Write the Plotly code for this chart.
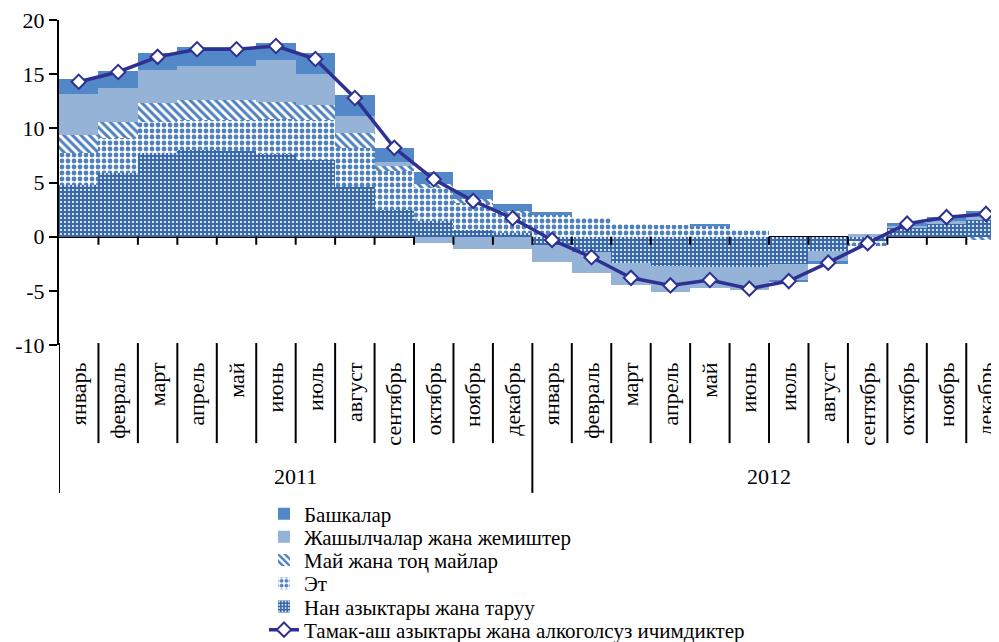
import plotly.graph_objects as go

months = ["январь", "февраль", "март", "апрель", "май", "июнь", "июль", "август",
          "сентябрь", "октябрь", "ноябрь", "декабрь"] * 2
years = ["2011", "2012"]
ytick_vals = [-10, -5, 0, 5, 10, 15, 20]
ytick_text = ["-10", "-5", "0", "5", "10", "15", "20"]

nan = [4.8, 5.9, 7.7, 8.0, 7.9, 7.65, 7.1, 4.6, 2.45, 1.45, 0.65, 0.35,
       -0.8, -1.4, -2.45, -2.7, -2.8, -2.8, -2.55, -1.3, -0.4, 0.85, 1.2, 1.55]
et = [2.9, 3.2, 2.9, 2.8, 2.9, 3.25, 3.7, 3.6, 3.6, 3.05, 2.5, 1.8,
      2.0, 1.7, 1.2, 1.05, 1.0, 0.65, 0.0, 0.0, -0.45, 0.0, 0.0, 0.0]
mai = [1.7, 1.5, 1.75, 1.8, 1.8, 1.55, 1.4, 1.4, 0.5, 0.4, 0.3, 0.2,
       0.0, 0.0, 0.0, 0.0, 0.0, 0.0, 0.0, 0.0, 0.0, 0.0, 0.0, -0.3]
jash = [3.8, 3.15, 3.05, 3.2, 3.2, 3.85, 2.8, 1.55, 0.3, -0.6, -1.15, -1.15,
        -1.5, -1.95, -2.0, -2.4, -1.9, -2.15, -1.45, -0.9, 0.25, 0.15, 0.25, 0.45]
bashka = [1.4, 1.55, 1.6, 1.7, 1.7, 1.6, 2.0, 1.95, 1.3, 1.05, 0.9, 0.63,
          0.3, 0.0, 0.0, 0.0, 0.15, 0.0, -0.2, -0.3, 0.0, 0.3, 0.35, 0.4]
total = [14.3, 15.2, 16.6, 17.3, 17.3, 17.6, 16.4, 12.8, 8.2, 5.3, 3.3, 1.7,
         -0.3, -1.9, -3.8, -4.5, -4.0, -4.8, -4.1, -2.4, -0.6, 1.2, 1.8, 2.1]

names = ["Нан азыктары жана таруу", "Эт", "Май жана тоң майлар",
         "Жашылчалар жана жемиштер", "Башкалар",
         "Тамак-аш азыктары жана алкоголсуз ичимдиктер"]

x = list(range(len(months)))
FONT = "Liberation Serif"
FS = 22
FS_LEG = 21
BLUE = "#4F81BD"
NAVY = "#2E3192"
OFF = 8  # page body margin

fig = go.Figure()
fig.add_trace(go.Bar(x=x, y=nan, name=names[0], legend="legend5",
                     marker=dict(color="#3A69AA", line=dict(width=0),
                                 pattern=dict(shape=".", bgcolor="#3A69AA", fgcolor="white",
                                              size=4, solidity=0.22, fillmode="replace"))))
fig.add_trace(go.Bar(x=x, y=et, name=names[1], legend="legend4",
                     marker=dict(color=BLUE, line=dict(width=0),
                                 pattern=dict(shape=".", bgcolor="white", fgcolor=BLUE,
                                              size=6, solidity=0.5, fillmode="replace"))))
fig.add_trace(go.Bar(x=x, y=mai, name=names[2], legend="legend3",
                     marker=dict(color=BLUE, line=dict(width=0),
                                 pattern=dict(shape="\\", bgcolor="white", fgcolor=BLUE,
                                              size=6, solidity=0.5, fillmode="replace"))))
fig.add_trace(go.Bar(x=x, y=jash, name=names[3], legend="legend2",
                     marker=dict(color="#95B3D7", line=dict(width=0))))
fig.add_trace(go.Bar(x=x, y=bashka, name=names[4], legend="legend",
                     marker=dict(color="#5388C8", line=dict(width=0))))
fig.add_trace(go.Scatter(x=x, y=total, name=names[5], legend="legend6", mode="lines+markers",
                         line=dict(color=NAVY, width=3.5),
                         marker=dict(symbol="diamond", size=11, color="white",
                                     line=dict(color=NAVY, width=2))))

shapes = []
for k in range(len(x)):
    shapes.append(dict(type="line", xref="x", yref="y", x0=k + 0.5, x1=k + 0.5,
                       y0=0, y1=-0.75, line=dict(color="black", width=2)))
for k in range(len(x)):
    b = k - 0.5
    y1 = -0.455 if k % 12 == 0 else -0.302
    shapes.append(dict(type="line", xref="x", yref="paper", x0=b, x1=b,
                       y0=0.006, y1=y1, line=dict(color="black", width=2)))

annotations = []
for i, yr in enumerate(years):
    annotations.append(dict(x=5.5 + 12 * i, y=-0.406, xref="x", yref="paper", text=yr,
                            showarrow=False, font=dict(family=FONT, size=FS, color="black"),
                            xanchor="center", yanchor="middle"))

W, H = 999 - OFF, 642 - OFF
legend_rows = [514, 537.2, 560.4, 583.6, 606.8, 630]
legends = {}
for i, ypx in enumerate(legend_rows):
    key = "legend" if i == 0 else "legend%d" % (i + 1)
    legends[key] = dict(xref="container", yref="container", x=(264 - OFF) / W, xanchor="left",
                        y=1 - (ypx - OFF) / H, yanchor="middle", itemwidth=30,
                        font=dict(family=FONT, size=FS_LEG, color="black"),
                        bgcolor="rgba(0,0,0,0)", borderwidth=0)

fig.update_layout(
    width=W, height=H,
    margin=dict(l=59 - OFF, r=0, t=20 - OFF, b=297, autoexpand=False),
    paper_bgcolor="white", plot_bgcolor="white",
    barmode="relative", bargap=0,
    font=dict(family=FONT, size=FS, color="black"),
    shapes=shapes, annotations=annotations,
    showlegend=True,
    xaxis=dict(range=[-0.5, 23.33], tickvals=x, ticktext=months, tickangle=-90,
               ticks="", showgrid=False, zeroline=False, showline=False, automargin=False,
               ticklabeloverflow="allow",
               tickfont=dict(family=FONT, size=FS, color="black"), ticklabelstandoff=12),
    yaxis=dict(range=[-10, 20], tickvals=ytick_vals, ticktext=ytick_text, showgrid=False,
               zeroline=True, zerolinecolor="black", zerolinewidth=2, showline=True,
               linecolor="black", linewidth=2, ticks="outside", ticklen=8, tickwidth=2,
               tickcolor="black", automargin=False, ticklabeloverflow="allow",
               tickfont=dict(family=FONT, size=FS, color="black")),
    **legends,
)

fig.write_html("out.html")
